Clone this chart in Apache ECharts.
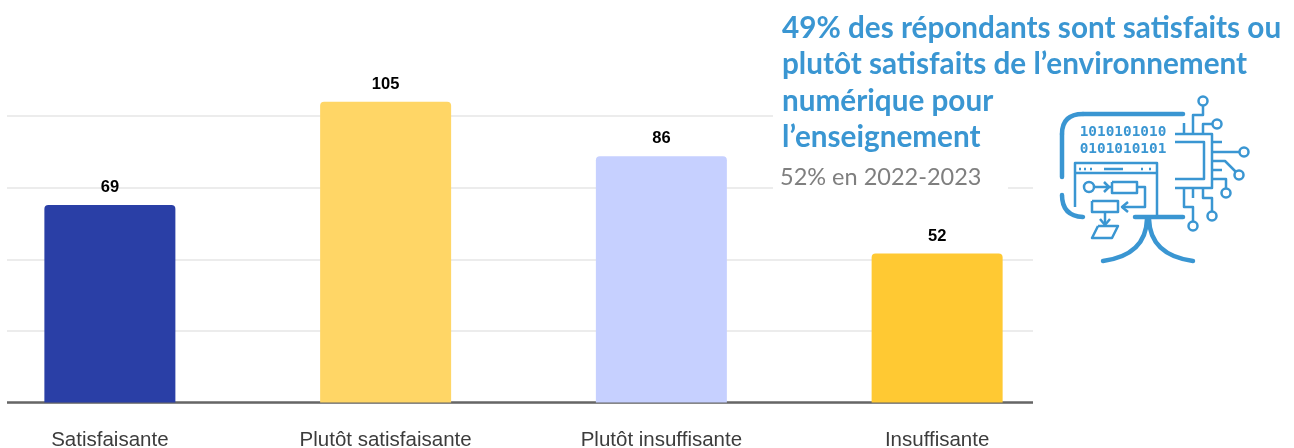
<!DOCTYPE html>
<html><head><meta charset="utf-8">
<style>html,body{margin:0;padding:0;background:#fff;overflow:hidden;width:1294px;height:448px}#c{position:absolute;left:-28px;top:0;width:1322px;height:448px}</style>
<script src="https://cdn.jsdelivr.net/npm/echarts@6/dist/echarts.min.js"></script>
</head><body><div id="c"></div>
<script>
const categories = ['Satisfaisante','Plutôt satisfaisante','Plutôt insuffisante','Insuffisante'];
const values = [69,105,86,52];
const barColors = ['#2a3fa6','#ffd666','#c6d0ff','#ffc933'];
const headline = ['49% des répondants sont satisfaits ou','plutôt satisfaits de l’environnement','numérique pour','l’enseignement'];
const note = '52% en 2022-2023';
const blue = '#3a96d2';
const iconThin = [
 [[1075,207],[1075,163],[1157,163],[1157,217]],
 [[1075,173],[1157,173]],
 [[1079,169],[1081,169]],[[1084,169],[1086,169]],[[1090,169],[1092,169]],
 [[1104,169],[1123,169]],[[1141,169],[1143,169]],[[1149,169],[1151,169]],
 [[1094,187],[1112,187]],
 [[1104,182],[1109,187],[1104,192]],
 [[1112,182],[1137,182],[1137,193],[1112,193],[1112,182]],
 [[1137,187],[1145,187],[1145,207],[1122,207]],
 [[1128,202],[1122,207],[1128,212]],
 [[1092,201],[1118,201],[1118,212],[1092,212],[1092,201]],
 [[1105,212],[1105,224]],
 [[1100,219],[1105,225],[1110,219]],
 [[1098,226],[1118,226],[1112,238],[1092,238],[1098,226]],
 [[1175,134],[1212,134],[1212,188],[1175,188]],
 [[1175,142],[1204,142],[1204,179],[1175,179]],
 [[1212,142],[1222,142]],
 [[1212,152],[1240,152]],
 [[1212,161],[1225,161],[1236,172]],
 [[1212,170],[1222,170]],
 [[1212,179],[1226,179],[1226,189]],
 [[1184,134],[1184,123]],
 [[1193,134],[1193,115],[1203,115],[1203,106]],
 [[1203,134],[1203,124],[1213,124]],
 [[1184,188],[1184,207],[1193,207],[1193,222]],
 [[1193,188],[1193,198]],
 [[1203,188],[1203,198],[1212,198],[1212,212]]
];
const iconCircles = [[1203,101,4.5],[1217,124,4.5],[1244,152,4.5],[1239,175,4.5],[1226,193,4.5],[1212,216,4.5],[1193,226,4.5],[1089,187,5]];
const iconBits = ['1010101010','0101010101'];
const rects = [[0,40,7,364],[1033,40,261,364],[773,0,521,160],[773,160,235,30]];
const children = rects.map(r=>({type:'rect',silent:true,z:50,shape:{x:r[0],y:r[1],width:r[2],height:r[3]},style:{fill:'#fff'}}));
headline.forEach((t,i)=>children.push({type:'text',silent:true,z:60,x:782,y:28+i*36.6,
 style:{text:t,font:'bold 29.7px Lato',fill:blue,verticalAlign:'middle'}}));
children.push({type:'text',silent:true,z:60,x:780,y:177,style:{text:note,font:'23.5px Lato',fill:'#7f7f7f',verticalAlign:'middle'}});
const thick = {fill:'none',stroke:blue,lineWidth:4.5,lineCap:'round'};
const line = (a,b,c,d)=>({type:'line',silent:true,z:60,shape:{x1:a,y1:b,x2:c,y2:d},style:thick});
const curve = (a,b,c,d,e,f)=>({type:'bezierCurve',silent:true,z:60,shape:{x1:a,y1:b,cpx1:c,cpy1:d,x2:e,y2:f},style:thick});
children.push(line(1083,114,1183,114),line(1062,134,1062,177),curve(1062,134,1062,114,1083,114),
 curve(1062,195,1062,216,1083,217),line(1135,217,1183,217),
 curve(1147,219,1146,255,1103,261),curve(1149,219,1150,255,1193,261));
iconThin.forEach(p=>children.push({type:'polyline',silent:true,z:60,shape:{points:p},style:{fill:'none',stroke:blue,lineWidth:2.5,lineJoin:'round'}}));
iconCircles.forEach(c=>children.push({type:'circle',silent:true,z:61,shape:{cx:c[0],cy:c[1],r:c[2]},style:{fill:'#fff',stroke:blue,lineWidth:2.5}}));
iconBits.forEach((t,i)=>children.push({type:'text',silent:true,z:60,x:1123,y:132+i*17,
 style:{text:t,font:'bold 14.4px "DejaVu Sans Mono"',fill:blue,align:'center',verticalAlign:'middle'}}));
const chart = echarts.init(document.getElementById('c'),null,{renderer:'canvas'});
chart.setOption({
 animation:false,
 grid:{left:0,right:219,top:44.5,bottom:45.5,outerBoundsMode:'none'},
 xAxis:{type:'category',data:categories,
  axisLine:{lineStyle:{color:'#666',width:2.5}},axisTick:{show:false},
  axisLabel:{color:'#3c3c3c',fontFamily:'Liberation Sans',fontSize:20.5,margin:27}},
 yAxis:{type:'value',min:0,max:125,interval:25,axisLabel:{show:false},axisLine:{show:false},axisTick:{show:false},
  splitLine:{showMaxLine:false,lineStyle:{color:'#ececec',width:2}}},
 series:[{type:'bar',barWidth:131,
  data:values.map((v,i)=>({value:v,itemStyle:{color:barColors[i],borderRadius:[4,4,0,0]}})),
  label:{show:true,position:'top',distance:9,color:'#000',fontFamily:'Liberation Sans',fontWeight:'bold',fontSize:16.5}}],
 graphic:[{type:'group',x:28,y:0,children}]
});
</script></body></html>
